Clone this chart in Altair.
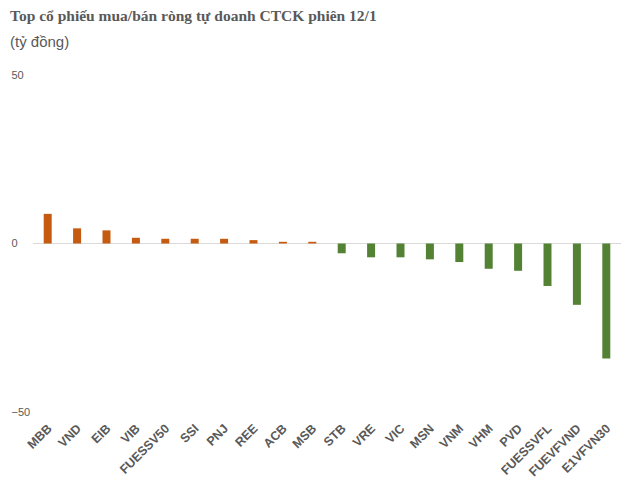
import altair as alt
import pandas as pd

tickers = ["MBB", "VND", "EIB", "VIB", "FUESSV50", "SSI", "PNJ", "REE", "ACB", "MSB",
           "STB", "VRE", "VIC", "MSN", "VNM", "VHM", "PVD", "FUESSVFL", "FUEVFVND", "E1VFVN30"]
values = [8.8, 4.5, 3.9, 1.7, 1.4, 1.4, 1.4, 1.0, 0.5, 0.5,
          -2.9, -4.1, -4.1, -4.7, -5.5, -7.5, -8.1, -12.6, -18.2, -34.1]
y_ticks = [-50, 0, 50]
title_text = "Top cổ phiếu mua/bán ròng tự doanh CTCK phiên 12/1"
subtitle_text = "(tỷ đồng)"

df = pd.DataFrame({"ticker": tickers, "value": values})
GRAY = "#595959"

bars = alt.Chart(df).mark_bar(size=8).encode(
    x=alt.X("ticker:N", sort=tickers, title=None,
            scale=alt.Scale(paddingInner=0, paddingOuter=0),
            axis=alt.Axis(labelAngle=-45, labelAlign="right", labelBaseline="middle",
                          labelFont="Liberation Sans", labelFontWeight="bold",
                          labelFontSize=12.5, labelColor=GRAY, labelPadding=14,
                          labelOffset=2,
                          ticks=False, domain=False, grid=False, labelOverlap=False)),
    y=alt.Y("value:Q", title=None,
            scale=alt.Scale(domain=[-50, 50], nice=False),
            axis=alt.Axis(values=y_ticks, labelAlign="left", labelPadding=22, ticks=False,
                          tickSize=0, domain=False, grid=False, labelFont="Liberation Sans",
                          labelFontSize=11, labelColor=GRAY)),
    color=alt.condition(alt.datum.value > 0, alt.value("#C55A11"), alt.value("#548235")),
)

zero = alt.Chart(pd.DataFrame({"z": [0]})).mark_rule(color="#d9d9d9", strokeWidth=1.2).encode(
    y=alt.Y("z:Q")
)

title = alt.Chart(pd.DataFrame({"t": [title_text]})).mark_text(
    align="left", baseline="middle", font="Liberation Serif", fontWeight="bold",
    fontSize=15.5, color=GRAY
).encode(text="t:N", x=alt.value(-23), y=alt.value(-59))

subtitle = alt.Chart(pd.DataFrame({"t": [subtitle_text]})).mark_text(
    align="left", baseline="middle", font="Liberation Sans",
    fontSize=15, color=GRAY
).encode(text="t:N", x=alt.value(-23), y=alt.value(-33))

chart = alt.layer(zero, bars, title, subtitle).properties(
    width=588, height=337,
    autosize=alt.AutoSizeParams(type="none"),
    padding={"left": 25, "top": 67, "right": 0, "bottom": 67},
).configure(background="white").configure_view(stroke=None)

chart.save("out.html", embed_options={"renderer": "svg", "actions": False})
